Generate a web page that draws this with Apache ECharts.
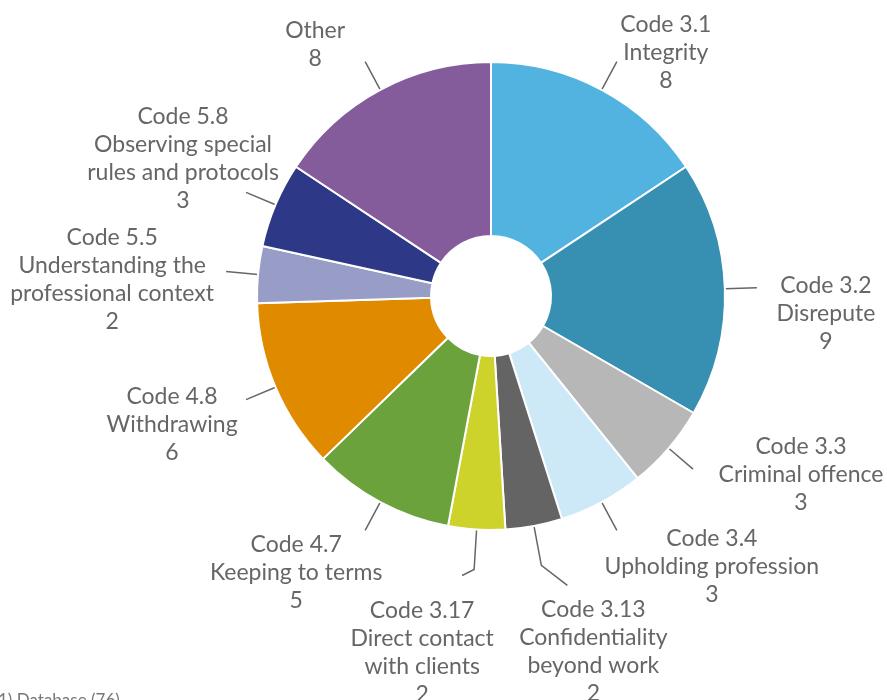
<!DOCTYPE html>
<html><head><meta charset="utf-8">
<script src="https://cdn.jsdelivr.net/npm/echarts@6/dist/echarts.min.js"></script>
<style>html,body{margin:0;padding:0;background:#fff}#c{width:887px;height:700px}</style>
</head><body><div id="c"></div>
<script>
const codes = ['Code 3.1','Code 3.2','Code 3.3','Code 3.4','Code 3.13','Code 3.17','Code 4.7','Code 4.8','Code 5.5','Code 5.8','Other'];
const descriptions = ['Integrity','Disrepute','Criminal offence','Upholding profession','Confidentiality\nbeyond work','Direct contact\nwith clients','Keeping to terms','Withdrawing','Understanding the\nprofessional context','Observing special\nrules and protocols',''];
const counts = [8,9,3,3,2,2,5,6,2,3,8];
const colors = ['#52B3E0','#378FB1','#B7B7B7','#CDE8F6','#646464','#CDD32B','#6CA23C','#E08A00','#979DC7','#2D3887','#845B9B'];
// label placement: offset of the text-block centre from the leader-line end
const labelShift = [[49,-9],[69,26],[108,6],[95,36],[52,86],[-52,83],[-69,42],[-74,25],[-114,8],[-63,-34],[-50,-17]];
// leader line: radial length, and an optional short tail towards the label
const lineLength = [32,32,32,32,40,40,32,32,32,32,32];
const lineTail = [null,null,null,null,[26,20],[-12,6],null,null,null,null,null];
const sourceNote = '1) Database (76)';

const chart = echarts.init(document.getElementById('c'), null, {renderer:'canvas'});
const data = codes.map((c,i)=>({name:c, value:counts[i], itemStyle:{color:colors[i]}, labelLine:{length:lineLength[i]}}));
chart.setOption({
  animation:false,
  series:[{
    type:'pie', center:[491,296], radius:[60,234], startAngle:90, clockwise:true,
    avoidLabelOverlap:false, minShowLabelAngle:0,
    itemStyle:{borderColor:'#fff', borderWidth:2},
    emphasis:{disabled:true},
    label:{show:true, position:'outside',
      formatter: p => { const i=p.dataIndex; return [codes[i], descriptions[i], String(counts[i])].filter(s=>s!=='').join('\n'); },
      fontFamily:'Lato', fontSize:23, lineHeight:28, color:'#666', align:'center'},
    labelLine:{show:true, length:32, length2:0, lineStyle:{color:'#666', width:1.5}},
    labelLayout: p => {
      const i = p.dataIndex;
      const pts = p.labelLinePoints; const e = pts[1]; const s = labelShift[i];
      const t = lineTail[i];
      const last = t ? [e[0]+t[0], e[1]+t[1]] : e;
      return {x: e[0]+s[0], y: e[1]+s[1], align:'center', verticalAlign:'middle', labelLinePoints:[pts[0], e, last]};
    },
    data
  }],
  graphic:[{type:'text', left:-2, top:692, style:{text:sourceNote, fontFamily:'Lato', fontSize:17, fill:'#777'}}]
});
</script></body></html>
